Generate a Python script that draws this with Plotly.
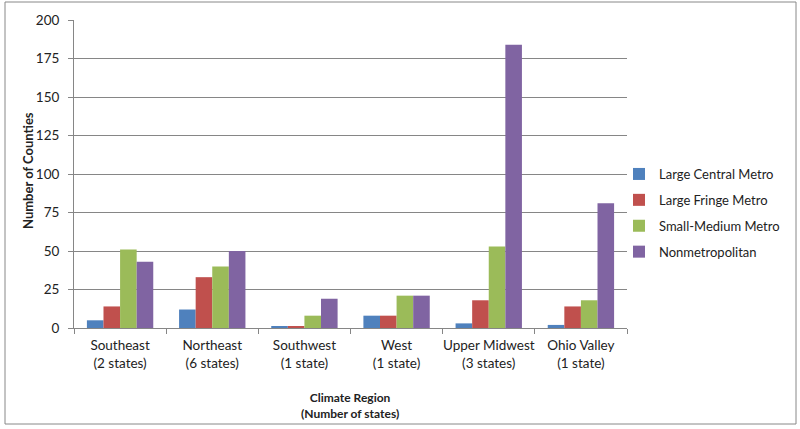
import plotly.graph_objects as go

categories = ["Southeast<br>(2 states)", "Northeast<br>(6 states)", "Southwest<br>(1 state)",
              "West<br>(1 state)", "Upper Midwest<br>(3 states)", "Ohio Valley<br>(1 state)"]
large_central = [5, 12, 1, 8, 3, 2]
large_fringe = [14, 33, 1, 8, 18, 14]
small_medium = [51, 40, 8, 21, 53, 18]
nonmetro = [43, 50, 19, 21, 184, 81]
series_names = ["Large Central Metro", "Large Fringe Metro", "Small-Medium Metro", "Nonmetropolitan"]
colors = ["#4F81BD", "#C0504D", "#9BBB59", "#8064A2"]
y_ticks = [0, 25, 50, 75, 100, 125, 150, 175, 200]

fig = go.Figure()
for i, (name, vals) in enumerate(zip(series_names, [large_central, large_fringe, small_medium, nonmetro])):
    fig.add_trace(go.Bar(x=categories, y=vals, name=name, marker_color=colors[i],
                         marker_line_width=0, legendgroup=f"g{i}"))

font_family = "Lato, 'Open Sans', sans-serif"
L, R, T, B = 74, 173, 20, 101
pw, ph = 800 - L - R, 429 - T - B

fig.update_layout(
    width=800, height=429,
    margin=dict(l=L, r=R, t=T, b=B, autoexpand=False),
    paper_bgcolor="white", plot_bgcolor="white",
    barmode="group", bargap=0.28, bargroupgap=0,
    font=dict(family=font_family, size=13, color="#222"),
    legend=dict(x=(619 - L) / pw, xanchor="left", y=(328 - 213) / ph, yanchor="middle",
                font=dict(size=13, color="#222"), tracegroupgap=6, itemwidth=30,
                bgcolor="rgba(0,0,0,0)"),
    xaxis=dict(showline=True, linecolor="#868686", linewidth=1, ticks="outside",
               tickson="boundaries", ticklen=5, tickcolor="#868686", showgrid=False,
               tickangle=0, automargin=False, ticklabelstandoff=5,
               tickfont=dict(size=13.5, color="#222")),
    yaxis=dict(range=[0, 200], tickvals=y_ticks, showline=True, linecolor="#868686",
               linewidth=1, ticks="outside", ticklen=5, tickcolor="#868686",
               showgrid=True, gridcolor="#868686", gridwidth=1, zeroline=False,
               automargin=False, ticklabelstandoff=6,
               tickfont=dict(size=13.5, color="#222")),
    annotations=[
        dict(text="<b>Climate Region<br>(Number of states)</b>", xref="paper", yref="paper",
             x=(350 - L) / pw, y=(328 - 405) / ph, xanchor="center", yanchor="middle",
             showarrow=False, font=dict(size=12, color="#222")),
        dict(text="<b>Number of Counties</b>", xref="paper", yref="paper",
             x=(28 - L) / pw, y=(328 - 171) / ph, xanchor="center", yanchor="middle",
             textangle=-90, showarrow=False, font=dict(size=13, color="#222")),
    ],
    shapes=[dict(type="rect", xref="paper", yref="paper",
                 x0=(5 - L) / pw, x1=(796 - L) / pw,
                 y0=(328 - 424) / ph, y1=(328 - 2) / ph,
                 line=dict(color="#888888", width=1), fillcolor="rgba(0,0,0,0)")],
)

fig.write_html("out.html", config={"displayModeBar": False},
               post_script="document.body.style.margin='0';document.body.style.overflow='hidden';")
